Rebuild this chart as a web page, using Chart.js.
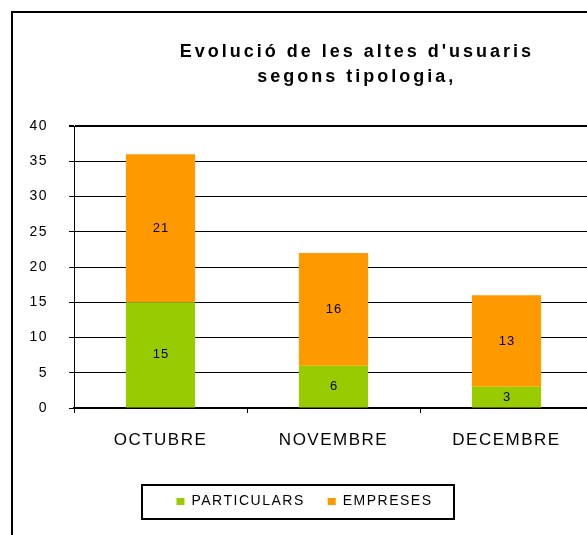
<!DOCTYPE html>
<html><head><meta charset="utf-8">
<style>
html,body{margin:0;padding:0;overflow:hidden;background:#fff;width:587px;height:535px}
#frame{position:absolute;left:11px;top:11px;width:620px;height:620px;border-left:2px solid #000;border-top:2px solid #000;pointer-events:none}
canvas{position:absolute;left:0;top:0}
</style>
<script src="https://cdn.jsdelivr.net/npm/chart.js@4"></script>
</head><body>
<canvas id="c" width="610" height="535"></canvas>
<div id="frame"></div>
<script>
const categories = ['OCTUBRE', 'NOVEMBRE', 'DECEMBRE'];
const particulars = [15, 6, 3];
const empreses = [21, 16, 13];
const seriesNames = ['PARTICULARS', 'EMPRESES'];
const titleLines = ["Evolució de les altes d'usuaris", "segons tipologia,"];
const yMin = 0, yMax = 40, yStep = 5;

const FAMILY = '"Liberation Sans", Arial, Helvetica, sans-serif';
Chart.defaults.font.family = FAMILY;
Chart.defaults.color = '#000';

const spacingPlugin = {
  id: 'spacing',
  beforeUpdate(chart) { chart.ctx.letterSpacing = '1.5px'; },
  beforeDraw(chart) { chart.ctx.letterSpacing = '1.5px'; },
  afterLayout(chart, args, opts) {
    if (chart.legend) { chart.legend.left += opts.legendShift; chart.legend.right += opts.legendShift; }
  }
};

const titlePlugin = {
  id: 'customTitle',
  afterDraw(chart, args, opts) {
    const ctx = chart.ctx, ca = chart.chartArea;
    ctx.save();
    ctx.font = 'bold 18px ' + FAMILY;
    ctx.letterSpacing = '3px';
    ctx.fillStyle = '#000';
    ctx.textAlign = 'center';
    ctx.textBaseline = 'alphabetic';
    const cx = ca.left + (ca.right - ca.left) * opts.xFrac;
    opts.lines.forEach((t, i) => ctx.fillText(t, cx, opts.baseline + i * opts.lineGap));
    ctx.restore();
  }
};

const valuePlugin = {
  id: 'values',
  afterDatasetsDraw(chart) {
    const ctx = chart.ctx;
    ctx.save();
    ctx.font = '13px ' + FAMILY;
    ctx.letterSpacing = '1px';
    ctx.fillStyle = '#000';
    ctx.textAlign = 'center';
    ctx.textBaseline = 'middle';
    chart.data.datasets.forEach((ds, i) => {
      chart.getDatasetMeta(i).data.forEach((bar, j) => {
        ctx.fillText(String(ds.data[j]), bar.x + 0.5, (bar.y + bar.base) / 2);
      });
    });
    ctx.restore();
  }
};

const legendBoxPlugin = {
  id: 'legendBox',
  afterDraw(chart) {
    const hb = chart.legend && chart.legend.legendHitBoxes;
    if (!hb || !hb.length) return;
    const ctx = chart.ctx;
    const left = hb[0].left, last = hb[hb.length - 1];
    const right = last.left + last.width;
    const cy = hb[0].top + hb[0].height / 2;
    ctx.save();
    ctx.strokeStyle = '#000';
    ctx.lineWidth = 2;
    ctx.strokeRect(Math.round(left - 34), Math.round(cy - 17), Math.round(right - left + 56), 34);
    ctx.restore();
  }
};

new Chart(document.getElementById('c'), {
  type: 'bar',
  data: {
    labels: categories,
    datasets: [
      { label: seriesNames[0], data: particulars, backgroundColor: '#99CC00', borderWidth: 0, barPercentage: 0.4, categoryPercentage: 1 },
      { label: seriesNames[1], data: empreses, backgroundColor: '#FF9900', borderWidth: 0, barPercentage: 0.4, categoryPercentage: 1 }
    ]
  },
  options: {
    responsive: false,
    animation: false,
    layout: { padding: { top: 126, left: 0, right: 17, bottom: 16.5 } },
    scales: {
      x: {
        stacked: true,
        ticks: { color: '#000', font: { size: 17 }, padding: 17 },
        grid: { display: true, drawOnChartArea: false, drawTicks: true, tickLength: 5, offset: true, color: '#000', lineWidth: 1 },
        border: { display: true, color: '#000', width: 2 },
        afterFit(s) { s.height = 63.5; }
      },
      y: {
        stacked: true,
        min: yMin, max: yMax,
        ticks: { stepSize: yStep, color: '#000', font: { size: 14 }, padding: 21 },
        grid: { color: '#000', lineWidth: c => (c.tick && c.tick.value === yMax) ? 2 : 1, tickLength: 5, drawTicks: true },
        border: { display: true, color: '#000', width: 1 },
        afterFit(s) { s.width = 74; }
      }
    },
    plugins: {
      title: { display: false },
      tooltip: { enabled: false },
      legend: {
        position: 'bottom',
        labels: { boxWidth: 8, boxHeight: 7, color: '#000', font: { size: 14 }, padding: 23 }
      },
      spacing: { legendShift: 8 },
      customTitle: { lines: titleLines, xFrac: 0.545, baseline: 57, lineGap: 25 }
    }
  },
  plugins: [spacingPlugin, titlePlugin, valuePlugin, legendBoxPlugin]
});
</script>
</body></html>
